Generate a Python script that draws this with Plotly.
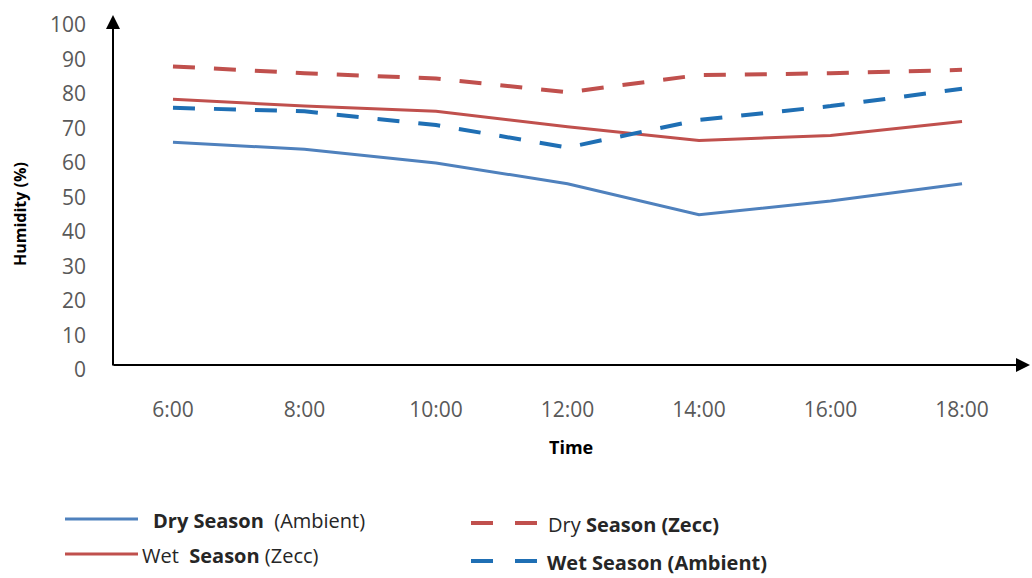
import plotly.graph_objects as go

# Humidity readings through the day
times = ["6:00", "8:00", "10:00", "12:00", "14:00", "16:00", "18:00"]
dry_ambient = [66, 64, 60, 54, 45, 49, 54]
wet_zecc = [78.5, 76.5, 75, 70.5, 66.5, 68, 72]
dry_zecc = [88, 86, 84.5, 80.5, 85.5, 86, 87]
wet_ambient = [76, 75, 71, 64.5, 72.5, 76.5, 81.5]

series = [
    ("Dry Season (Ambient)", dry_ambient, "#4F81BD", "solid", 3),
    ("Wet Season (Zecc)", wet_zecc, "#C0504D", "solid", 3),
    ("Dry Season (Zecc)", dry_zecc, "#C0504D", "22px,19px", 4),
    ("Wet Season (Ambient)", wet_ambient, "#1F6FB4", "22px,19px", 4),
]

W, H = 1032, 578
L, R, T, B = 113, 10, 15, 208
PW, PH = W - L - R, H - T - B


def px(x):
    return (x - L) / PW


def py(y):
    return (H - B - y) / PH


fig = go.Figure()
for name, vals, color, dash, width in series:
    fig.add_trace(go.Scatter(
        x=times, y=vals, mode="lines", name=name,
        line=dict(color=color, dash=dash, width=width),
        showlegend=False,
    ))

# hand-drawn axes with arrowheads
fig.add_annotation(x=px(113), y=py(15), xref="paper", yref="paper",
                   ax=0, ay=352, showarrow=True, arrowhead=2, arrowsize=1.4,
                   arrowwidth=2, arrowcolor="black", text="")
fig.add_annotation(x=px(1030), y=py(365), xref="paper", yref="paper",
                   ax=-918, ay=0, showarrow=True, arrowhead=2, arrowsize=1.4,
                   arrowwidth=2, arrowcolor="black", text="")

# axis titles
fig.add_annotation(x=px(20), y=py(214), xref="paper", yref="paper",
                   xanchor="center", yanchor="middle",
                   text="<b>Humidity (%)</b>", textangle=-90, showarrow=False,
                   font=dict(family="Open Sans", size=16, color="black"))
fig.add_annotation(x=px(571), y=py(447), xref="paper", yref="paper",
                   xanchor="center", yanchor="middle",
                   text="<b>Time</b>", showarrow=False,
                   font=dict(family="Open Sans", size=18, color="black"))

# legend drawn as line samples with labels
legend_items = [
    (65, 138, 519, "#4F81BD", "solid", 3, 151, "<b>Dry Season</b>  (Ambient)"),
    (65, 138, 554, "#C0504D", "solid", 3, 140, "Wet  <b>Season</b> (Zecc)"),
    (471, 537, 523, "#C0504D", "dash", 4, 546, "Dry <b>Season (Zecc)</b>"),
    (471, 537, 561, "#1F6FB4", "dash", 4, 545, "<b>Wet Season (Ambient)</b>"),
]
for x0, x1, yy, color, dash, width, tx, label in legend_items:
    if dash == "solid":
        segs = [(x0, x1)]
    else:
        segs = [(x0, x0 + 22), (x1 - 22, x1)]
    for a, b in segs:
        fig.add_shape(type="line", xref="paper", yref="paper",
                      x0=px(a), x1=px(b), y0=py(yy), y1=py(yy),
                      line=dict(color=color, width=width))
    fig.add_annotation(x=px(tx), y=py(yy + 1), xref="paper", yref="paper",
                       text=label, showarrow=False, xanchor="left",
                       yanchor="middle",
                       font=dict(family="Open Sans", size=20, color="#262626"))

fig.update_layout(
    width=W, height=H,
    margin=dict(l=L, r=R, t=T, b=B),
    paper_bgcolor="white", plot_bgcolor="white",
    xaxis=dict(type="category", range=[-0.456, 6.456], showgrid=False,
               showline=False, zeroline=False, ticks="",
               ticklabelstandoff=25,
               tickfont=dict(family="Open Sans", size=21, color="#595959")),
    yaxis=dict(range=[0, 102.9], tickvals=list(range(0, 101, 10)),
               showgrid=False, showline=False, zeroline=False, ticks="",
               ticklabelstandoff=26,
               tickfont=dict(family="Open Sans", size=21, color="#595959")),
)

fig.write_html("out.html")
